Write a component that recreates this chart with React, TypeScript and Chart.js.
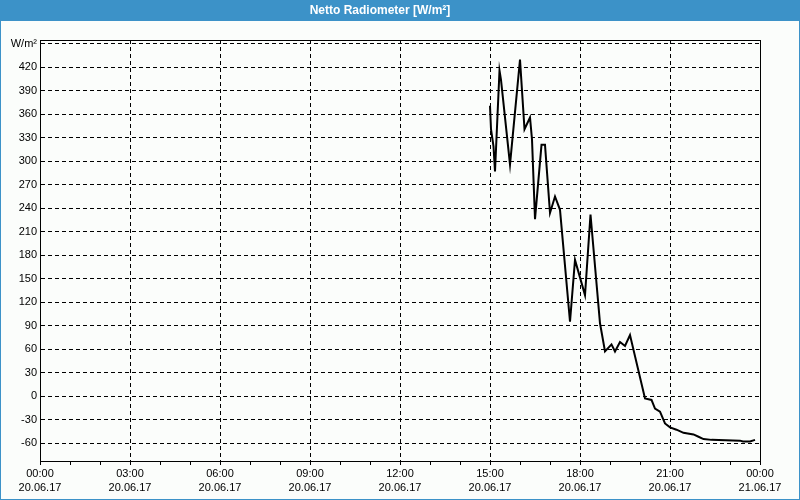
import React, { useEffect, useRef } from "react";
import { Chart, registerables } from "chart.js";

Chart.register(...registerables);

// minutes since 20.06.17 00:00
const sampleTimes = [
  900, 902, 907, 910, 919, 922, 940, 960, 969, 980, 984, 990, 1003, 1010, 1020,
  1030, 1040, 1060, 1070, 1090, 1101, 1120, 1130, 1143, 1150, 1160, 1170, 1180,
  1210, 1223, 1230, 1240, 1250, 1260, 1273, 1287, 1307, 1317, 1327, 1343, 1400,
  1406, 1420, 1430,
];
const netRadiation = [
  371, 341, 319, 287, 416, 404, 296, 430, 341, 356, 328, 226, 321, 321, 234,
  255, 238, 95, 174, 129, 232, 93, 57, 66, 57, 69, 64, 78,
  -3, -5, -16, -20, -35, -40, -43, -47, -49, -52, -55, -56, -57,
  -58, -58, -56,
];
const yTickValues = [-60, -30, 0, 30, 60, 90, 120, 150, 180, 210, 240, 270, 300, 330, 360, 390, 420, 450];
const xTimeLabels = ["00:00", "03:00", "06:00", "09:00", "12:00", "15:00", "18:00", "21:00", "00:00"];
const xDateLabels = ["20.06.17", "20.06.17", "20.06.17", "20.06.17", "20.06.17", "20.06.17", "20.06.17", "20.06.17", "21.06.17"];
const yUnitLabel = "W/m²";
const chartTitle = "Netto Radiometer [W/m²]";

const BLUE = "#3c92c8";
const BG = "#fbfdfb";
const FONT = "'Liberation Sans', Arial, sans-serif";

export default function App() {
  const ref = useRef<HTMLCanvasElement | null>(null);

  useEffect(() => {
    document.body.style.margin = "0";
    const canvas = ref.current;
    if (!canvas) return;

    const framePlugin = {
      id: "frame",
      beforeDraw(chart: any) {
        const c = chart.ctx;
        c.save();
        c.fillStyle = BG;
        c.fillRect(0, 0, chart.width, chart.height);
        c.fillStyle = BLUE;
        c.fillRect(0, 0, chart.width, 21);
        c.fillRect(0, 0, 1, chart.height);
        c.fillRect(chart.width - 1, 0, 1, chart.height);
        c.fillRect(0, chart.height - 1, chart.width, 1);
        c.restore();
      },
      afterDraw(chart: any) {
        const a = chart.chartArea;
        const c = chart.ctx;
        c.save();
        c.strokeStyle = "#000";
        c.lineWidth = 1;
        c.setLineDash([]);
        c.strokeRect(Math.round(a.left) + 0.5, Math.round(a.top) + 0.5, Math.round(a.right - a.left), Math.round(a.bottom - a.top));
        c.restore();
      },
    };

    const chart = new Chart(canvas, {
      type: "line",
      data: {
        datasets: [
          {
            data: sampleTimes.map((t, i) => ({ x: t, y: netRadiation[i] })),
            borderColor: "#000",
            borderWidth: 2,
            pointRadius: 0,
            tension: 0,
            fill: false,
          },
        ],
      },
      options: {
        responsive: false,
        animation: false,
        events: [],
        layout: { padding: { left: 0, right: 40, top: 0, bottom: 0 } },
        plugins: {
          legend: { display: false },
          tooltip: { enabled: false },
          title: {
            display: true,
            text: chartTitle,
            color: "#fff",
            font: { family: FONT, size: 12, weight: "bold" },
            padding: { top: 3, bottom: 22.6 },
          },
        },
        scales: {
          x: {
            type: "linear",
            min: 0,
            max: 1440,
            afterBuildTicks(scale: any) {
              const t = [];
              for (let v = 0; v <= 1440; v += 60) t.push({ value: v });
              scale.ticks = t;
            },
            afterFit(scale: any) {
              scale.height = 39;
            },
            grid: {
              display: true,
              drawOnChartArea: true,
              drawTicks: true,
              tickLength: 4,
              color: (ctx: any) =>
                ctx.tick && ctx.tick.value % 180 === 0 ? "#000" : "rgba(0,0,0,0)",
              tickColor: "#000",
              lineWidth: 1,
            },
            border: { display: true, color: "#000", width: 1, dash: [4, 3] },
            ticks: {
              autoSkip: false,
              maxRotation: 0,
              padding: 1,
              color: "#000",
              font: { family: FONT, size: 11, lineHeight: 1.36 },
              callback: (value: any) => {
                const v = Number(value);
                if (v % 180 !== 0) return "";
                const i = v / 180;
                return [xTimeLabels[i], xDateLabels[i]];
              },
            },
          },
          y: {
            type: "linear",
            min: -83,
            max: 455,
            afterBuildTicks(scale: any) {
              scale.ticks = yTickValues.map((v) => ({ value: v }));
            },
            afterFit(scale: any) {
              scale.width = 40;
            },
            grid: {
              display: true,
              drawTicks: false,
              color: "#000",
              lineWidth: 1,
            },
            border: { display: true, color: "#000", width: 1, dash: [4, 3] },
            ticks: {
              autoSkip: false,
              padding: 3,
              color: "#000",
              font: { family: FONT, size: 11 },
              callback: (value: any) => (Number(value) === 450 ? yUnitLabel : String(value)),
            },
          },
        },
      },
      plugins: [framePlugin],
    } as any);

    return () => chart.destroy();
  }, []);

  return (
    <div style={{ width: 800, height: 500 }}>
      <canvas ref={ref} width={800} height={500} style={{ display: "block" }} />
    </div>
  );
}
